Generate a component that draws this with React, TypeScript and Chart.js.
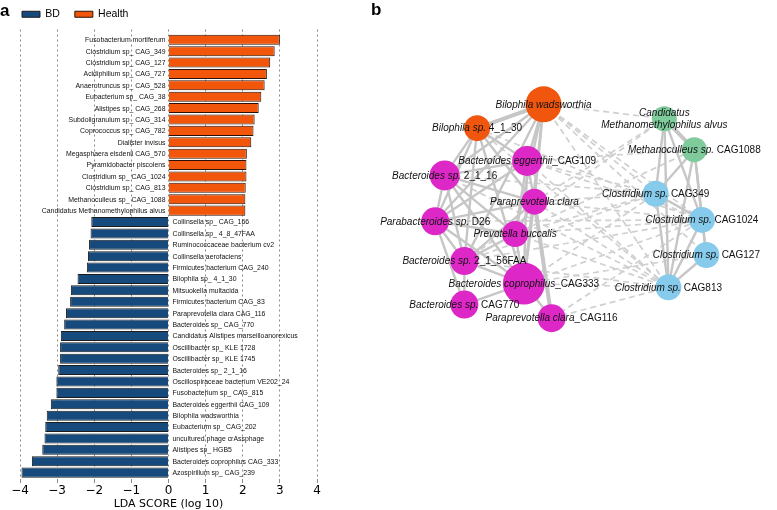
import React, { useEffect, useRef } from "react";
import { Chart, registerables } from "chart.js";

Chart.register(...registerables);

// ---------- Panel a : LEfSe LDA scores ----------
const healthTaxa = [
  "Fusobacterium mortiferum",
  "Clostridium sp_ CAG_349",
  "Clostridium sp_ CAG_127",
  "Acidiphilium sp_ CAG_727",
  "Anaerotruncus sp_ CAG_528",
  "Eubacterium sp_ CAG_38",
  "Alistipes sp_ CAG_268",
  "Subdoligranulum sp_ CAG_314",
  "Coprococcus sp_ CAG_782",
  "Dialister invisus",
  "Megasphaera elsdenii CAG_570",
  "Pyramidobacter piscolens",
  "Clostridium sp_ CAG_1024",
  "Clostridium sp_ CAG_813",
  "Methanoculleus sp_ CAG_1088",
  "Candidatus Methanomethylophilus alvus",
];
const healthLDA = [3.0, 2.86, 2.74, 2.65, 2.59, 2.5, 2.43, 2.32, 2.29, 2.23, 2.11, 2.1, 2.1, 2.08, 2.07, 2.07];

const bdTaxa = [
  "Collinsella sp_ CAG_166",
  "Collinsella sp_ 4_8_47FAA",
  "Ruminococcaceae bacterium cv2",
  "Collinsella aerofaciens",
  "Firmicutes bacterium CAG_240",
  "Bilophila sp_ 4_1_30",
  "Mitsuokella multacida",
  "Firmicutes bacterium CAG_83",
  "Paraprevotella clara CAG_116",
  "Bacteroides sp_ CAG_770",
  "Candidatus Alistipes marseilloanorexicus",
  "Oscillibacter sp_ KLE 1728",
  "Oscillibacter sp_ KLE 1745",
  "Bacteroides sp_ 2_1_16",
  "Oscillospiraceae bacterium VE202_24",
  "Fusobacterium sp_ CAG_815",
  "Bacteroides eggerthii CAG_109",
  "Bilophila wadsworthia",
  "Eubacterium sp_ CAG_202",
  "uncultured phage crAssphage",
  "Alistipes sp_ HGB5",
  "Bacteroides coprophilus CAG_333",
  "Azospirillum sp_ CAG_239",
];
const bdLDA = [
  -2.08, -2.1, -2.14, -2.17, -2.2, -2.45, -2.63, -2.65, -2.76, -2.81, -2.9, -2.92,
  -2.92, -2.97, -3.02, -3.02, -3.17, -3.28, -3.32, -3.34, -3.4, -3.68, -3.96,
];
const xTicks = [-4, -3, -2, -1, 0, 1, 2, 3, 4];
const groupLabels = ["BD", "Health"];

// ---------- Panel b : co-occurrence network ----------
const nodeItalic = [
  "Bilophila wadsworthia",
  "Bilophila sp.",
  "Candidatus\nMethanomethylophilus alvus",
  "Methanoculleus sp.",
  "Bacteroides eggerthii",
  "Bacteroides sp.",
  "Clostridium sp.",
  "Paraprevotella clara",
  "Clostridium sp.",
  "Parabacteroides sp.",
  "Prevotella buccalis",
  "Clostridium sp.",
  "Bacteroides sp.",
  "Bacteroides coprophilus",
  "Clostridium sp.",
  "Bacteroides sp.",
  "Paraprevotella clara",
];
const nodeSuffix = [
  "", " 4_1_30", "", " CAG1088", "_CAG109", " 2_1_16", " CAG349", "", " CAG1024",
  " D26", "", " CAG127", " 2_1_56FAA", "_CAG333", " CAG813", " CAG770", "_CAG116",
];
// layout coordinates (0-100)
const nodeX = [41.8, 23.6, 74.9, 83.1, 37.3, 14.7, 72.5, 39.3, 85.2, 12.1, 34.0, 86.4, 20.1, 36.4, 76.0, 20.1, 44.0];
const nodeY = [82.2, 77.1, 79.1, 72.5, 70.1, 67.0, 63.1, 61.4, 57.5, 57.2, 54.5, 50.0, 48.7, 43.9, 43.1, 39.4, 36.5];
const nodeSize = [18, 13, 12.5, 12.5, 15, 15, 13, 13, 13, 14, 13, 13, 14, 21, 13, 14, 14];
// 0 = BD Bilophila, 1 = BD Bacteroidales, 2 = Health archaea, 3 = Health Clostridium
const nodeGroup = [0, 0, 2, 2, 1, 1, 3, 1, 3, 1, 1, 3, 1, 1, 3, 1, 1];

const edgeSource = [
  0, 0, 0, 0, 0, 0, 0, 0, 1, 1, 1, 1, 1, 1, 5, 5, 5, 5, 5, 5, 4, 4, 4, 4, 9, 9, 9, 9, 9, 7, 7, 7, 7, 10, 10, 12, 12, 13, 13,
  2, 2, 2, 2, 3, 3, 3, 3, 6, 6, 8, 8, 11,
  0, 0, 0, 0, 0, 1, 1, 4, 4, 4, 5, 5, 7, 7, 7, 7, 9, 10, 10, 10, 12, 12, 12, 12, 13, 13, 13, 13, 16, 16, 4, 10,
];
const edgeTarget = [
  1, 4, 5, 7, 9, 10, 12, 13, 5, 4, 9, 7, 12, 13, 4, 9, 12, 10, 13, 7, 7, 10, 13, 9, 7, 12, 10, 13, 15, 10, 12, 13, 16, 12, 13, 13, 15, 15, 16,
  3, 6, 8, 14, 6, 8, 11, 14, 14, 8, 11, 14, 14,
  2, 6, 8, 14, 11, 8, 14, 3, 8, 14, 6, 14, 6, 8, 14, 2, 8, 6, 8, 14, 2, 6, 8, 14, 6, 8, 11, 14, 14, 8, 6, 3,
];
// 1 = positive correlation (solid), -1 = negative (dashed)
const edgeSign = [
  1, 1, 1, 1, 1, 1, 1, 1, 1, 1, 1, 1, 1, 1, 1, 1, 1, 1, 1, 1, 1, 1, 1, 1, 1, 1, 1, 1, 1, 1, 1, 1, 1, 1, 1, 1, 1, 1, 1,
  1, 1, 1, 1, 1, 1, 1, 1, 1, 1, 1, 1, 1,
  -1, -1, -1, -1, -1, -1, -1, -1, -1, -1, -1, -1, -1, -1, -1, -1, -1, -1, -1, -1, -1, -1, -1, -1, -1, -1, -1, -1, -1, -1, -1, -1,
];
const edgeStrength = [
  2, 1, 1, 1, 1, 1, 1, 1, 1, 1, 1, 1, 1, 1, 1, 1, 1, 1, 1, 1, 1, 1, 1, 1, 1, 1, 1, 1, 1, 1, 1, 1, 2, 1, 1, 1, 1, 1, 1,
  2, 1, 1, 1, 1, 1, 1, 1, 1, 1, 1, 1, 1,
  1, 1, 1, 1, 1, 1, 1, 1, 1, 1, 1, 1, 1, 1, 1, 1, 1, 1, 1, 1, 1, 1, 1, 1, 1, 1, 1, 1, 1, 1, 1, 1,
];

const BD_COLOR = "#164a7c";
const HEALTH_COLOR = "#f2560b";
const GROUP_COLORS = ["#f0560e", "#dd27c6", "#7fcb9b", "#86cbeb"];

const barLabelPlugin = {
  id: "barLabels",
  afterDatasetsDraw(chart: any) {
    const ctx = chart.ctx;
    const x0 = chart.scales.x.getPixelForValue(0);
    ctx.save();
    ctx.font = '6.9px "Liberation Sans", Arial, sans-serif';
    ctx.fillStyle = "#111";
    ctx.textBaseline = "middle";
    chart.data.datasets.forEach((ds: any, di: number) => {
      const meta = chart.getDatasetMeta(di);
      const names = di === 0 ? bdTaxa : healthTaxa;
      meta.data.forEach((el: any, i: number) => {
        if (di === 0) {
          ctx.textAlign = "left";
          ctx.fillText(names[i], x0 + 4, el.y + 0.5);
        } else {
          ctx.textAlign = "right";
          ctx.fillText(names[i], x0 - 3, el.y + 0.5);
        }
      });
    });
    ctx.restore();
  },
};

const nodeLabelPlugin = {
  id: "nodeLabels",
  afterDatasetsDraw(chart: any) {
    const ctx = chart.ctx;
    const sx = chart.scales.x;
    const sy = chart.scales.y;
    const fontI = 'italic 10px "Liberation Sans", Arial, sans-serif';
    const fontR = '10px "Liberation Sans", Arial, sans-serif';
    ctx.save();
    ctx.fillStyle = "#111";
    ctx.textBaseline = "middle";
    ctx.textAlign = "left";
    nodeItalic.forEach((txt, i) => {
      const px = sx.getPixelForValue(nodeX[i]);
      const py = sy.getPixelForValue(nodeY[i]);
      const lines = txt.split("\n");
      const lh = 11.6;
      lines.forEach((line, li) => {
        const suffix = li === lines.length - 1 ? nodeSuffix[i] : "";
        ctx.font = fontI;
        const wI = ctx.measureText(line).width;
        ctx.font = fontR;
        const wR = ctx.measureText(suffix).width;
        const start = px - (wI + wR) / 2;
        const y = py + (li - (lines.length - 1) / 2) * lh + 0.5;
        ctx.font = fontI;
        ctx.fillText(line, start, y);
        if (suffix) {
          ctx.font = fontR;
          ctx.fillText(suffix, start + wI, y);
        }
      });
    });
    ctx.restore();
  },
};

export default function App() {
  const barRef = useRef<HTMLCanvasElement>(null);
  const netRef = useRef<HTMLCanvasElement>(null);

  useEffect(() => {
    const bdData = bdLDA.map((v, i) => ({ x: v, y: healthLDA.length + i }));
    const healthData = healthLDA.map((v, i) => ({ x: v, y: i }));
    const barChart = new Chart(barRef.current as HTMLCanvasElement, {
      type: "bar",
      data: {
        datasets: [
          {
            label: groupLabels[0],
            data: bdData as any,
            backgroundColor: BD_COLOR,
            borderColor: "#1c1c1c",
            borderWidth: 1,
            grouped: false,
            barPercentage: 0.88,
            categoryPercentage: 1,
          } as any,
          {
            label: groupLabels[1],
            data: healthData as any,
            backgroundColor: HEALTH_COLOR,
            borderColor: "#2a1208",
            borderWidth: 1,
            grouped: false,
            barPercentage: 0.88,
            categoryPercentage: 1,
          } as any,
        ],
      },
      options: {
        indexAxis: "y",
        animation: false,
        responsive: false,
        layout: { padding: { left: 7, right: 18, top: -6, bottom: 0 } },
        scales: {
          x: {
            type: "linear",
            min: -4,
            max: 4,
            z: 1,
            afterBuildTicks: (axis: any) => {
              axis.ticks = xTicks.map((v) => ({ value: v }));
            },
            ticks: {
              callback: (v: any) => String(v).replace("-", "\u2212"),
              font: { family: "DejaVu Sans", size: 12, lineHeight: 1 },
              color: "#000",
              padding: 2,
              maxRotation: 0,
            },
            grid: { color: "#8a8a8a", lineWidth: 1, tickLength: 4 },
            border: { display: false, dash: [2, 3] },
            title: {
              display: true,
              text: "LDA SCORE (log 10)",
              font: { family: "DejaVu Sans", size: 11, lineHeight: 1 },
              color: "#000",
              padding: { top: 0, bottom: 0 },
            },
          } as any,
          y: {
            type: "linear",
            min: -0.9,
            max: 38.56,
            reverse: true,
            offset: false,
            display: true,
            ticks: { display: false },
            grid: { display: false },
            border: { display: false },
            afterFit: (s: any) => {
              s.width = 13;
            },
          } as any,
        },
        plugins: {
          legend: {
            display: true,
            position: "top",
            align: "start",
            labels: {
              boxWidth: 18,
              boxHeight: 6,
              padding: 15,
              color: "#000",
              font: { family: "Liberation Sans", size: 10.5 },
            },
          },
          tooltip: { enabled: false },
        },
      } as any,
      plugins: [barLabelPlugin],
    });

    const edgeDatasets = edgeSource.map((s, k) => {
      const t = edgeTarget[k];
      const pos = edgeSign[k] > 0;
      return {
        label: "edge" + k,
        data: [
          { x: nodeX[s], y: nodeY[s] },
          { x: nodeX[t], y: nodeY[t] },
        ],
        showLine: true,
        pointRadius: 0,
        borderColor: pos ? "#c6c6c6" : "#d0d0d0",
        borderWidth: pos ? (edgeStrength[k] > 1 ? 4 : 2.4) : 1.7,
        borderDash: pos ? [] : [6, 4],
        order: 2,
        clip: false,
      };
    });
    const netChart = new Chart(netRef.current as HTMLCanvasElement, {
      type: "scatter",
      data: {
        datasets: [
          ...edgeDatasets,
          {
            label: "nodes",
            data: nodeX.map((x, i) => ({ x, y: nodeY[i] })),
            pointRadius: nodeSize,
            pointHoverRadius: nodeSize,
            backgroundColor: nodeGroup.map((g) => GROUP_COLORS[g]),
            borderWidth: 0,
            order: 0,
            clip: false,
          },
        ] as any,
      },
      options: {
        animation: false,
        responsive: false,
        layout: { padding: 0 },
        scales: {
          x: { type: "linear", min: 0, max: 100, display: false },
          y: { type: "linear", min: 0, max: 100, display: false },
        },
        plugins: { legend: { display: false }, tooltip: { enabled: false } },
      } as any,
      plugins: [nodeLabelPlugin],
    });

    return () => {
      barChart.destroy();
      netChart.destroy();
    };
  }, []);

  const panelLabel: React.CSSProperties = {
    position: "absolute",
    fontFamily: '"Liberation Sans", Arial, sans-serif',
    fontWeight: "bold",
    fontSize: 17,
    lineHeight: "17px",
    color: "#000",
  };

  return (
    <div
      style={{
        position: "fixed",
        left: 0,
        top: 0,
        width: 777,
        height: 510,
        background: "#fff",
        overflow: "hidden",
      }}
    >
      <canvas
        ref={barRef}
        width={335}
        height={510}
        style={{ position: "absolute", left: 0, top: 0, width: 335, height: 510 }}
      />
      <canvas
        ref={netRef}
        width={407}
        height={510}
        style={{ position: "absolute", left: 370, top: 0, width: 407, height: 510 }}
      />
      <div style={{ ...panelLabel, left: 0, top: 2 }}>a</div>
      <div style={{ ...panelLabel, left: 371, top: 1 }}>b</div>
    </div>
  );
}
